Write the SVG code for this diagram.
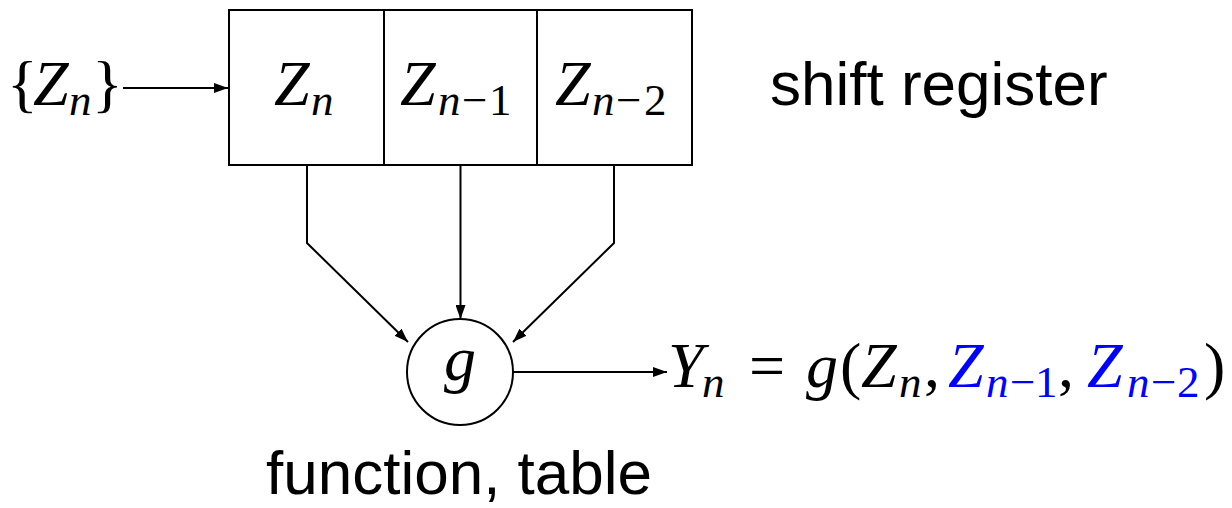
<svg xmlns="http://www.w3.org/2000/svg" width="1232" height="508" viewBox="0 0 1232 508">
<style>
.ln{fill:none;stroke:#000;stroke-width:2}
.m{font-family:"Liberation Serif","Times New Roman",serif;font-size:64px;fill:#000}
.i{font-style:italic}
.s{font-size:45px}
.b{fill:#0000ff}
.lab{font-family:"Liberation Sans",Arial,sans-serif;font-size:62px;fill:#000}
</style>
<defs>
<marker id="ah" markerUnits="userSpaceOnUse" markerWidth="15" markerHeight="10" refX="14" refY="5" orient="auto">
<path d="M0,0 L14,5 L0,10 z" fill="#000"/>
</marker>
</defs>
<g id="connectors">
<path class="ln" d="M123,88 H228" marker-end="url(#ah)"/>
<path class="ln" d="M307,165 V243 L408,342" marker-end="url(#ah)"/>
<path class="ln" d="M460.5,165 V319" marker-end="url(#ah)"/>
<path class="ln" d="M614,165 V243 L513,342" marker-end="url(#ah)"/>
<path class="ln" d="M513,372 H667" marker-end="url(#ah)"/>
</g>
<g id="input">
<text class="m" y="105"><tspan x="7">{</tspan><tspan class="i" x="33">Z</tspan><tspan class="i s" x="69" dy="10">n</tspan><tspan x="92" dy="-10">}</tspan></text>
</g>
<g id="register">
<rect class="ln" x="229" y="10" width="463" height="155"/>
<line class="ln" x1="384" y1="10" x2="384" y2="165"/>
<line class="ln" x1="537" y1="10" x2="537" y2="165"/>
<text class="m" y="105"><tspan class="i" x="274">Z</tspan><tspan class="i s" x="311" dy="10">n</tspan></text>
<text class="m" y="105"><tspan class="i" x="400">Z</tspan><tspan class="i s" x="438" dy="10">n</tspan><tspan class="s" x="462">−</tspan><tspan class="s" x="489">1</tspan></text>
<text class="m" y="105"><tspan class="i" x="555">Z</tspan><tspan class="i s" x="592" dy="10">n</tspan><tspan class="s" x="616">−</tspan><tspan class="s" x="644">2</tspan></text>
</g>
<g id="label-register">
<text class="lab" x="770" y="105">shift register</text>
</g>
<g id="g-node">
<circle class="ln" cx="460" cy="372" r="53"/>
<text class="m i" x="460" y="380" text-anchor="middle">g</text>
</g>
<g id="label-function">
<text class="lab" x="266" y="494">function, table</text>
</g>
<g id="output">
<text class="m" y="387"><tspan class="i" x="668">Y</tspan><tspan class="i s" x="702" dy="10">n</tspan><tspan x="749" dy="-10">=</tspan><tspan class="i" x="806">g</tspan><tspan x="840">(</tspan><tspan class="i" x="861">Z</tspan><tspan class="i s" x="899" dy="10">n</tspan><tspan x="924" dy="-10">,</tspan><tspan class="i b" x="948">Z</tspan><tspan class="i s b" x="986" dy="10">n</tspan><tspan class="s b" x="1010">−</tspan><tspan class="s b" x="1035">1</tspan><tspan x="1058" dy="-10">,</tspan><tspan class="i b" x="1087">Z</tspan><tspan class="i s b" x="1127" dy="10">n</tspan><tspan class="s b" x="1151">−</tspan><tspan class="s b" x="1177">2</tspan><tspan x="1204" dy="-10">)</tspan></text>
</g>
</svg>
